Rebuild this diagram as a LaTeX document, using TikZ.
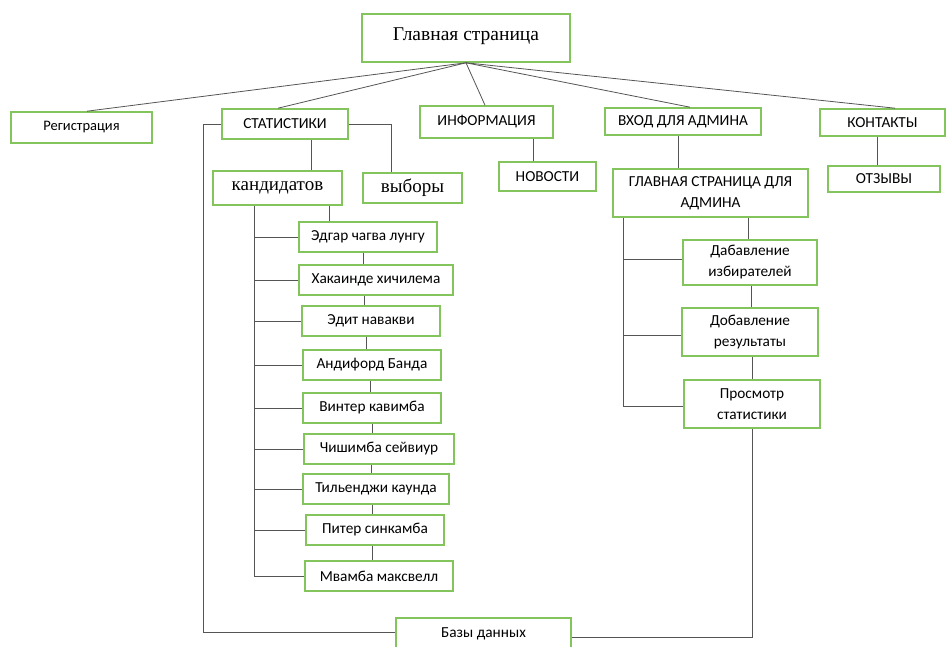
\documentclass[tikz,border=0pt]{standalone}
\usepackage{fontspec}
\setmainfont{Liberation Serif}
\newfontfamily\calfont{Carlito}
\definecolor{boxgreen}{RGB}{132,196,92}
\definecolor{linegray}{RGB}{85,85,85}
\begin{document}
\begin{tikzpicture}[x=1pt, y=-1pt, box/.style={rectangle,draw=boxgreen,line width=1.6pt,inner sep=0pt,align=center,font=\calfont\fontsize{15.3}{21}\selectfont}, title box/.style={box,font=\fontsize{19}{22}\selectfont}, link/.style={draw=linegray,line width=0.8pt}]
\useasboundingbox (0,0) rectangle (946,647);
\begin{scope}
\node[title box,minimum width=208pt,minimum height=48pt,font=\fontsize{19.5}{22}\selectfont] (home) at (466,38) {\raisebox{8pt}{Главная страница}};
\node[box,minimum width=141pt,minimum height=31pt,font=\calfont\fontsize{14.5}{17}\selectfont] (reg) at (81.5,127.5) {Регистрация};
\node[box,minimum width=126pt,minimum height=30pt] (stat) at (285,124) {СТАТИСТИКИ};
\node[box,minimum width=133pt,minimum height=32pt] (info) at (486.5,122) {ИНФОРМАЦИЯ};
\node[box,minimum width=156pt,minimum height=27pt] (login) at (683,121.5) {ВХОД ДЛЯ АДМИНА};
\node[box,minimum width=125pt,minimum height=27pt] (contacts) at (882.5,122.5) {КОНТАКТЫ};
\end{scope}
\begin{scope}
\node[title box,minimum width=129pt,minimum height=34pt] (cand) at (277.5,188) {кандидатов};
\node[title box,minimum width=99pt,minimum height=30pt] (elect) at (412.5,188) {выборы};
\node[box,minimum width=97pt,minimum height=29pt] (news) at (547.5,176.5) {НОВОСТИ};
\node[box,minimum width=195pt,minimum height=48pt] (admin) at (710.5,193) {ГЛАВНАЯ СТРАНИЦА ДЛЯ\\АДМИНА};
\node[box,minimum width=112pt,minimum height=26pt] (reviews) at (884,179) {ОТЗЫВЫ};
\end{scope}
\begin{scope}
\node[box,minimum width=138pt,minimum height=30pt] (c1) at (368,237) {Эдгар чагва лунгу};
\node[box,minimum width=154pt,minimum height=30pt] (c2) at (376,280) {Хакаинде хичилема};
\node[box,minimum width=138pt,minimum height=30pt] (c3) at (371,321) {Эдит навакви};
\node[box,minimum width=138pt,minimum height=30pt] (c4) at (372,365) {Андифорд Банда};
\node[box,minimum width=138pt,minimum height=30pt] (c5) at (372,408) {Винтер кавимба};
\node[box,minimum width=150pt,minimum height=30pt] (c6) at (379,449) {Чишимба сейвиур};
\node[box,minimum width=146pt,minimum height=30pt] (c7) at (376,489) {Тильенджи каунда};
\node[box,minimum width=138pt,minimum height=30pt] (c8) at (375,530) {Питер синкамба};
\node[box,minimum width=148pt,minimum height=30pt] (c9) at (379,576) {Мвамба максвелл};
\end{scope}
\begin{scope}
\node[box,minimum width=134pt,minimum height=45pt,text width=130pt] (voters) at (750,262.5) {Дабавление\\избирателей};
\node[box,minimum width=136pt,minimum height=48pt,text width=132pt] (results) at (750,332) {Добавление\\результаты};
\node[box,minimum width=136pt,minimum height=48pt,text width=132pt] (view) at (752,404) {Просмотр\\статистики};
\node[box,minimum width=175pt,minimum height=32pt] (db) at (483.5,634) {Базы данных};
\end{scope}
\begin{scope}[every path/.style={link}]
\draw (home.south) edge ([xshift=5.5pt]reg.north);
\draw (home.south) edge ([xshift=-7pt]stat.north);
\draw (home.south) edge ([xshift=-1.5pt]info.north);
\draw (home.south) edge ([xshift=7pt]login.north);
\draw (home.south) edge ([xshift=12.5pt]contacts.north);
\draw (stat.west) -- ++(-18,0) |- ([yshift=2pt]db.west);
\draw (stat.east) -| ([xshift=-21.5pt]elect.north);
\draw ([xshift=26pt]stat.south) -- ([xshift=26pt]stat.south |- cand.north);
\draw ([xshift=46.5pt]info.south) -- ([xshift=46.5pt]info.south |- news.north);
\draw ([xshift=-5pt]login.south) -- ([xshift=-5pt]login.south |- admin.north);
\draw ([xshift=-5.5pt]contacts.south) -- ([xshift=-5.5pt]contacts.south |- reviews.north);
\coordinate (spine) at ([xshift=-23.5pt]cand.south);
\draw (spine) |- (c9.west);
\foreach \c in {c1,c2,c3,c4,c5,c6,c7,c8}
  \draw (spine |- \c.west) -- (\c.west);
\draw ([xshift=51.5pt]cand.south) -- ([xshift=51.5pt]cand.south |- c1.north);
\foreach \a/\b/\s in {c1/c2/-5,c2/c3/-12,c3/c4/-5,c4/c5/-2,c5/c6/0,c6/c7/-8,c7/c8/-4,c8/c9/-3}
  \draw ([xshift=\s pt]\a.south) -- ([xshift=\s pt]\a.south |- \b.north);
\coordinate (aspine) at ([xshift=-87.5pt]admin.south);
\draw (aspine) |- ([yshift=-2pt]view.west);
\draw ([yshift=3.5pt]voters.west -| aspine) -- ([yshift=3.5pt]voters.west);
\draw ([yshift=-3pt]results.west -| aspine) -- ([yshift=-3pt]results.west);
\draw ([xshift=37.5pt]admin.south) -- ([xshift=37.5pt]admin.south |- voters.north);
\draw ([xshift=1pt]voters.south) -- ([xshift=1pt]voters.south |- results.north);
\draw ([xshift=2pt]results.south) -- ([xshift=2pt]results.south |- view.north);
\draw (view.south) |- ([yshift=-3pt]db.east);
\end{scope}
\end{tikzpicture}
\end{document}
